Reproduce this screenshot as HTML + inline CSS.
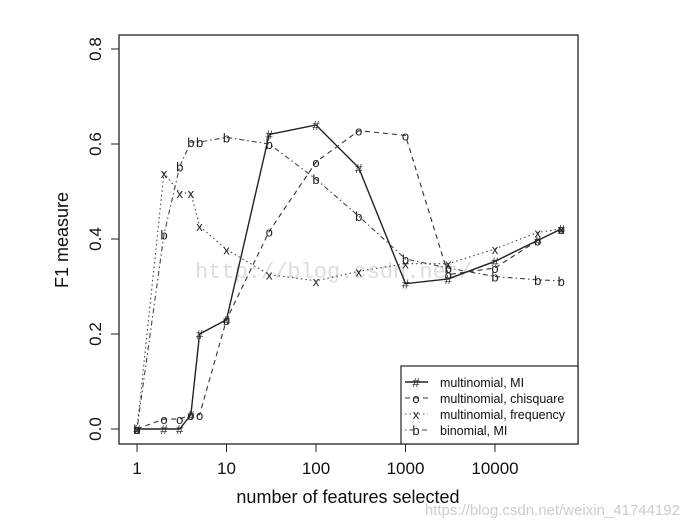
<!DOCTYPE html>
<html><head><meta charset="utf-8"><style>
html,body{margin:0;padding:0;background:#fff;}
svg{display:block;font-family:"Liberation Sans",Arial,sans-serif;}
</style></head><body>
<svg id="chart" width="689" height="528" viewBox="0 0 689 528">
<g id="axes"></g><g id="series"></g><g id="legend"></g>
</svg>
<script>
const xValues=[1,2,3,4,5,10,30,100,300,1000,3000,10000,30000,55000];
const miValues=[0,0,0,0.03,0.2,0.23,0.62,0.64,0.55,0.306,0.316,0.353,0.397,0.421];
const chiValues=[0,0.021,0.021,0.03,0.03,0.23,0.416,0.562,0.628,0.618,0.325,0.339,0.397,0.421];
const freqValues=[0,0.539,0.497,0.497,0.427,0.378,0.325,0.312,0.332,0.348,0.348,0.379,0.414,0.421];
const binValues=[0,0.409,0.553,0.604,0.604,0.614,0.6,0.526,0.448,0.358,0.339,0.321,0.314,0.312];
const xTicks=[1,10,100,1000,10000];
const xTickLabels=["1","10","100","1000","10000"];
const yTicks=[0,0.2,0.4,0.6,0.8];
const yTickLabels=["0.0","0.2","0.4","0.6","0.8"];
const seriesNames=["multinomial, MI","multinomial, chisquare","multinomial, frequency","binomial, MI"];

const NS="http://www.w3.org/2000/svg";
function xS(v){return 137+Math.log10(v)*89.5;}
function yS(v){return 429-v/0.2*95;}
function mk(tag,attrs,parent){const e=document.createElementNS(NS,tag);for(const k in attrs)e.setAttribute(k,attrs[k]);parent.appendChild(e);return e;}
const axes=document.getElementById('axes'),series=document.getElementById('series'),legend=document.getElementById('legend');

const box=mk('rect',{x:119,y:35,width:459,height:409,fill:'none',stroke:'#222','stroke-width':1.3},axes);


xTicks.forEach((t,i)=>{
  const l=mk('line',{x1:xS(t),x2:xS(t),y1:444,y2:452,stroke:'#222','stroke-width':1},axes);
  
  
  const tx=mk('text',{x:xS(t),y:474,'font-size':17,'text-anchor':'middle',fill:'#111'},axes);
  
  
  tx.textContent=xTickLabels[i];
});
yTicks.forEach((t,i)=>{
  const l=mk('line',{x1:111,x2:119,y1:yS(t),y2:yS(t),stroke:'#222','stroke-width':1},axes);
  
  
  const tx=mk('text',{x:0,y:0,'font-size':17,'text-anchor':'middle',fill:'#111',transform:`translate(101,${yS(t)}) rotate(-90)`},axes);
  
  
  tx.textContent=yTickLabels[i];
});
const yt=mk('text',{x:0,y:0,'font-size':18,'text-anchor':'middle',fill:'#111',transform:'translate(68,240) rotate(-90)'},axes);


yt.textContent='F1 measure';
const xt=mk('text',{x:348,y:503,'font-size':18,'text-anchor':'middle',fill:'#111'},axes);


xt.textContent='number of features selected';
const wm=mk('text',{x:195,y:278,'font-size':22,fill:'#ddd','font-family':'Liberation Mono, monospace'},axes);


wm.textContent='http://blog.csdn.net/';
const wm2=mk('text',{x:680,y:515,'font-size':15,'text-anchor':'end',fill:'#ccc'},axes);


wm2.textContent='https://blog.csdn.net/weixin_41744192';

const defs=[
 {vals:miValues,dash:'',ch:'#',name:'series-multinomial-mi',w:1.4,col:'#222'},
 {vals:chiValues,dash:'5,4',ch:'o',name:'series-multinomial-chisquare',w:1.1,col:'#333'},
 {vals:freqValues,dash:'1.5,3',ch:'x',name:'series-multinomial-frequency',w:1.1,col:'#444'},
 {vals:binValues,dash:'1.5,3,5,3',ch:'b',name:'series-binomial-mi',w:1.1,col:'#444'}
];
defs.forEach(d=>{
  const g=mk('g',{},series);
  
  
  const pts=d.vals.map((v,i)=>xS(xValues[i])+','+yS(v)).join(' ');
  const pl=mk('polyline',{points:pts,fill:'none',stroke:d.col,'stroke-width':d.w,'stroke-dasharray':d.dash},g);
  
  
  d.vals.forEach((v,i)=>{
    const t=mk('text',{x:xS(xValues[i]),y:yS(v)+5,'font-size':13,'text-anchor':'middle',fill:'#222'},g);
    
    
    t.textContent=d.ch;
  });
});

const lb=mk('rect',{x:401,y:366,width:177,height:78,fill:'#fff',stroke:'#222','stroke-width':1.2},legend);


defs.forEach((d,i)=>{
  const y=382+i*16;
  const g=mk('g',{},legend);
  
  
  mk('line',{x1:405,x2:428,y1:y,y2:y,stroke:d.col,'stroke-width':d.w,'stroke-dasharray':d.dash},g);
  const m=mk('text',{x:416,y:y+5,'font-size':13,'text-anchor':'middle',fill:'#222'},g);
  m.textContent=d.ch;
  const t=mk('text',{x:440,y:y+5,'font-size':12.5,fill:'#111'},g);
  t.textContent=seriesNames[i];
});
</script>
</body></html>
